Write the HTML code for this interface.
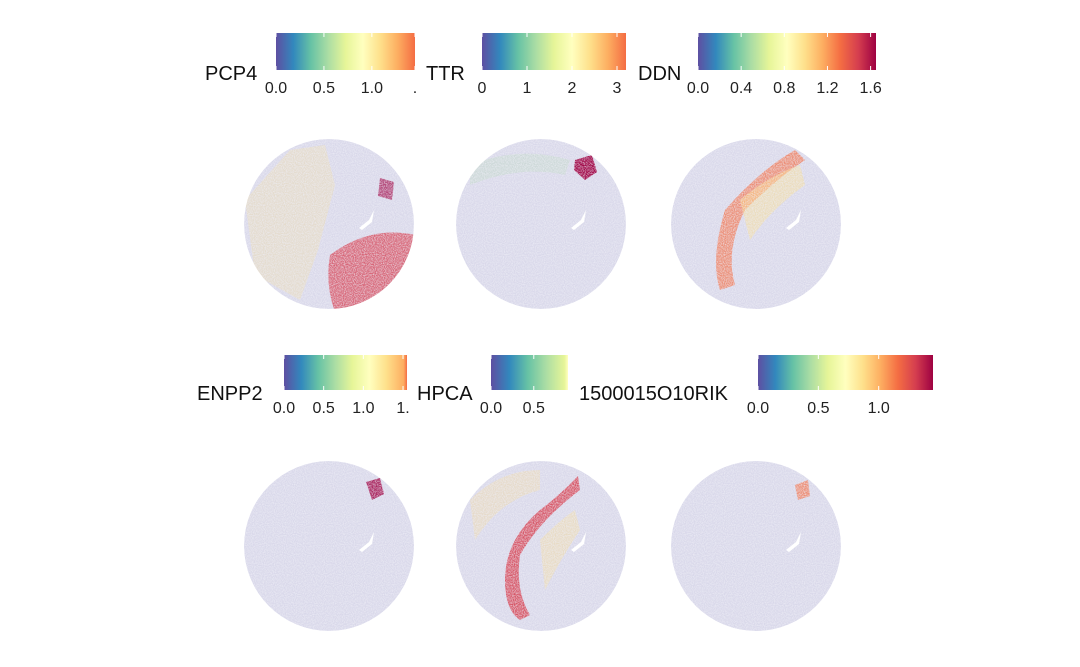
<!DOCTYPE html>
<html><head><meta charset="utf-8"><style>
body{margin:0;background:#fff}
svg{display:block;font-family:"Liberation Sans",sans-serif}
</style></head><body>
<svg width="1080" height="667" viewBox="0 0 1080 667">
<defs>
<linearGradient id="spec" x1="0" x2="1" y1="0" y2="0">
<stop offset="0" stop-color="#5e4fa2"/><stop offset="0.1" stop-color="#3288bd"/><stop offset="0.2" stop-color="#66c2a5"/><stop offset="0.3" stop-color="#abdda4"/><stop offset="0.4" stop-color="#e6f598"/><stop offset="0.5" stop-color="#ffffbf"/><stop offset="0.6" stop-color="#fee08b"/><stop offset="0.7" stop-color="#fdae61"/><stop offset="0.8" stop-color="#f46d43"/><stop offset="0.9" stop-color="#d53e4f"/><stop offset="1" stop-color="#9e0142"/>
</linearGradient>
<filter id="speck" x="0" y="0" width="100%" height="100%">
<feTurbulence type="fractalNoise" baseFrequency="0.9" numOctaves="1" seed="3"/>
<feColorMatrix values="0 0 0 0 0.86  0 0 0 0 0.86  0 0 0 0 0.93  0 0 0 -2.2 1.5"/>
</filter>
</defs>
<g id="plots"></g>
</svg>
<script>
const ns="http://www.w3.org/2000/svg";
const genes=["PCP4","TTR","DDN","ENPP2","HPCA","1500015O10RIK"];
const maxVals=[1.45,3.2,1.65,1.55,0.9,1.45];
const spectrumMax=[0.8,0.8,1,0.72,0.42,1];
const tickLabels=[["0.0","0.5","1.0","."],["0","1","2","3"],["0.0","0.4","0.8","1.2","1.6"],["0.0","0.5","1.0","1."],["0.0","0.5"],["0.0","0.5","1.0"]];
const tickValues=[[0,0.5,1.0,1.45],[0,1,2,3],[0,0.4,0.8,1.2,1.6],[0,0.5,1.0,1.5],[0,0.5],[0,0.5,1.0]];
const barX=[276,482,698,284,491,758];
const barW=[139,144,178,123,77,175];
const labelX=[205,426,638,197,417,579];
const rowY=[33,355];
const centers=[[329,224],[541,224],[756,224],[329,546],[541,546],[756,546]];
const radius=85;
const regions=[
 [["M290 150 L325 145 L335 185 L318 250 L300 300 L255 275 L245 200Z","#fee08b",0.3],["M330 255 Q370 225 415 235 L415 310 L335 312 Q325 285 330 255Z","#d53e4f",0.75],["M380 178 L394 182 L392 200 L378 196Z","#9e0142",0.7]],
 [["M575 160 L592 155 L597 172 L585 180 L574 170Z","#9e0142",1],["M470 165 Q520 145 570 160 L565 175 Q520 165 470 185Z","#abdda4",0.25]],
 [["M795 150 Q760 170 725 210 Q710 260 720 290 L735 285 Q725 250 745 210 Q775 180 805 160Z","#f46d43",0.7],["M740 200 Q770 175 800 165 L805 185 Q770 210 750 240 Z","#fee08b",0.5]],
 [["M366 482 L380 478 L384 494 L372 500Z","#9e0142",0.85]],
 [["M578 476 Q560 495 540 510 Q505 540 505 580 Q505 610 520 620 L530 615 Q515 590 520 555 Q540 520 580 490Z","#d53e4f",0.85],["M470 500 Q500 470 540 470 L540 490 Q500 500 475 540Z","#fee08b",0.35],["M540 540 Q560 520 575 510 L580 530 Q560 560 545 590 Z","#fee08b",0.4]],
 [["M795 485 L808 480 L810 496 L798 500Z","#f46d43",0.7]]
];
const g=document.getElementById("plots");
function el(t,a,p){const e=document.createElementNS(ns,t);for(const k in a)e.setAttribute(k,a[k]);(p||g).appendChild(e);return e;}
genes.forEach((gene,i)=>{
 const by=rowY[i<3?0:1], bh=i<3?37:35;
 const grp=el("g",{});
 
 
 const gid="g"+i;
 const lg=el("linearGradient",{id:gid,x1:0,x2:1},document.querySelector("defs"));
 lg.innerHTML=document.getElementById("spec").innerHTML;
 [...lg.children].forEach(s=>s.setAttribute("offset",parseFloat(s.getAttribute("offset"))/spectrumMax[i]));
 const bar=el("rect",{x:barX[i],y:by,width:barW[i],height:bh,fill:"url(#"+gid+")"},grp);
 
 
 const t=el("text",{x:labelX[i],y:by+bh+10,"font-size":20,fill:"#111"},grp);t.textContent=gene;
 
 
 tickValues[i].forEach((v,j)=>{
  const x=barX[i]+v/maxVals[i]*barW[i];
  el("line",{x1:x,x2:x,y1:by,y2:by+4,stroke:"#fff"},grp);
  el("line",{x1:x,x2:x,y1:by+bh-4,y2:by+bh,stroke:"#fff"},grp);
  const tl=el("text",{x:x,y:by+bh+23,"font-size":16,"text-anchor":"middle",fill:"#222"},grp);tl.textContent=tickLabels[i][j];
  
  
 });
 const [cx,cy]=centers[i];
 const cp=el("clipPath",{id:"c"+i},document.querySelector("defs"));
 el("circle",{cx,cy,r:radius},cp);
 const sg=el("g",{"clip-path":"url(#c"+i+")"},grp);
 
 
 el("circle",{cx,cy,r:radius,fill:"#d9d8ea"},sg);
 regions[i].forEach(r=>{const p=el("path",{d:r[0],fill:r[1],opacity:r[2]},sg);});
 el("rect",{x:cx-radius,y:cy-radius,width:2*radius,height:2*radius,filter:"url(#speck)",opacity:0.7},sg);
 el("path",{d:`M${cx+45} ${cy-14} L${cx+40} ${cy-4} L${cx+30} ${cy+4} L${cx+33} ${cy+6} L${cx+43} ${cy-2}Z`,fill:"#fff"},sg);
});
</script>
</body></html>
